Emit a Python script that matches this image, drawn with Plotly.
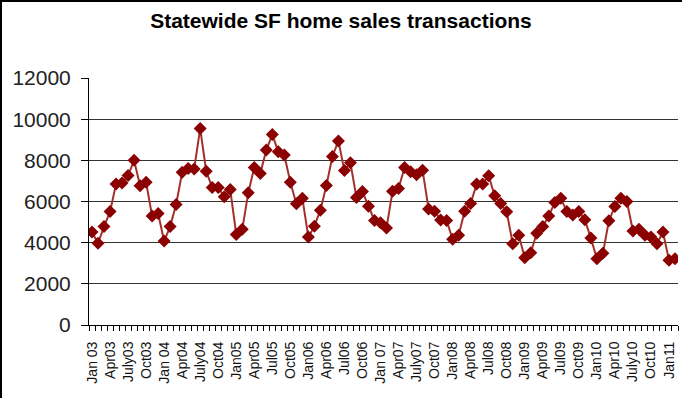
import plotly.graph_objects as go

# Monthly statewide single-family home sales transactions, Jan 2003 - Feb 2011
sales = [
    4520, 3970, 4780, 5510, 6850, 6900, 7260, 8000, 6770, 6930, 5290, 5420,   # 2003
    4080, 4780, 5860, 7420, 7600, 7580, 9550, 7470, 6680, 6680, 6230, 6580,   # 2004
    4400, 4650, 6420, 7650, 7360, 8500, 9250, 8420, 8260, 6940, 5890, 6160,   # 2005
    4270, 4800, 5580, 6780, 8190, 8940, 7500, 7880, 6190, 6480, 5770, 5080,   # 2006
    4970, 4710, 6500, 6630, 7650, 7440, 7300, 7520, 5640, 5530, 5100, 5080,   # 2007
    4160, 4360, 5530, 5900, 6850, 6850, 7250, 6280, 5900, 5500, 3950, 4360,   # 2008
    3270, 3510, 4460, 4780, 5300, 5950, 6160, 5510, 5350, 5510, 5110, 4230,   # 2009
    3220, 3480, 5060, 5760, 6160, 6000, 4570, 4650, 4360, 4280, 3950, 4520,   # 2010
    3150, 3220,                                                               # 2011
]
month_index = list(range(len(sales)))

tick_labels = [
    "Jan 03", "Apr03", "July03", "Oct03",
    "Jan 04", "Apr04", "July04", "Oct04",
    "Jan05", "Apr05", "Jul05", "Oct05",
    "Jan06", "Apr06", "Jul06", "Oct06",
    "Jan 07", "Apr07", "July07", "Oct07",
    "Jan08", "Apr08", "Jul08", "Oct08",
    "Jan09", "Apr09", "Jul09", "Oct09",
    "Jan10", "Apr10", "July10", "Oct10",
    "Jan11",
]
tick_positions = [3 * i for i in range(len(tick_labels))]

y_ticks = [0, 2000, 4000, 6000, 8000, 10000, 12000]
y_tick_labels = ["0", "2000", "4000", "6000", "8000", "10000", "12000"]
grid_ticks = [2000, 4000, 6000, 8000, 10000]

W, H = 682, 398
ML, MR, MT, MB = 89, 4, 78, 73
PW, PH = W - ML - MR, H - MT - MB

fig = go.Figure()
fig.add_trace(go.Scatter(
    x=month_index, y=sales, mode="lines+markers",
    line=dict(color="#A3302A", width=2),
    marker=dict(symbol="diamond", size=10, color="#8B0000"),
    showlegend=False, hoverinfo="x+y",
))
# invisible trace on overlay axis to carry the gridlines
fig.add_trace(go.Scatter(x=[month_index[0]], y=[None], yaxis="y2",
                         showlegend=False, hoverinfo="skip"))

font_family = "Liberation Sans, Arial, sans-serif"
fig.update_layout(
    width=W, height=H,
    margin=dict(l=ML, r=MR, t=MT, b=MB, pad=0, autoexpand=False),
    paper_bgcolor="white", plot_bgcolor="white",
    font=dict(family=font_family, color="#000000"),
    title=dict(text="<b>Statewide SF home sales transactions</b>",
               x=0.5, xref="container", xanchor="center",
               y=1 - 21 / H, yanchor="middle", yref="container",
               font=dict(size=21, family=font_family, color="#000000")),
    xaxis=dict(
        range=[-0.5, len(sales) - 0.5], automargin=False,
        tickmode="array", tickvals=tick_positions, ticktext=tick_labels,
        tickangle=-90, ticks="", tickfont=dict(size=14, color="#111111"),
        ticklabelstandoff=10,
        showgrid=False, zeroline=False,
        showline=True, linecolor="#000000", linewidth=1,
        minor=dict(tick0=-0.5, dtick=1, ticks="outside", ticklen=5,
                   tickcolor="#000000", showgrid=False),
    ),
    yaxis=dict(
        range=[0, 12000], automargin=False,
        tickmode="array", tickvals=y_ticks, ticktext=y_tick_labels,
        ticks="outside", ticklen=7, tickcolor="#000000",
        tickfont=dict(size=21, color="#222222"),
        showgrid=False, zeroline=False,
        showline=True, linecolor="#000000", linewidth=1,
        ticklabelstandoff=6,
    ),
    yaxis2=dict(
        range=[0, 12000], overlaying="y", side="left", automargin=False,
        tickmode="array", tickvals=grid_ticks, showticklabels=False,
        ticks="", showgrid=True, gridcolor="#333333", gridwidth=1,
        zeroline=False, showline=False,
    ),
    shapes=[
        dict(type="line", xref="paper", yref="paper",
             x0=(-ML + 1) / PW, x1=(-ML + 1) / PW, y0=-MB / PH, y1=1 + MT / PH,
             line=dict(color="#000000", width=2)),
        dict(type="line", xref="paper", yref="paper",
             x0=-ML / PW, x1=1 + MR / PW, y0=1 + (MT - 1) / PH, y1=1 + (MT - 1) / PH,
             line=dict(color="#000000", width=2)),
    ],
)

fig.write_html(
    "out.html",
    config={"displayModeBar": False},
    post_script="document.body.style.margin='0';document.body.style.overflow='hidden';",
)
